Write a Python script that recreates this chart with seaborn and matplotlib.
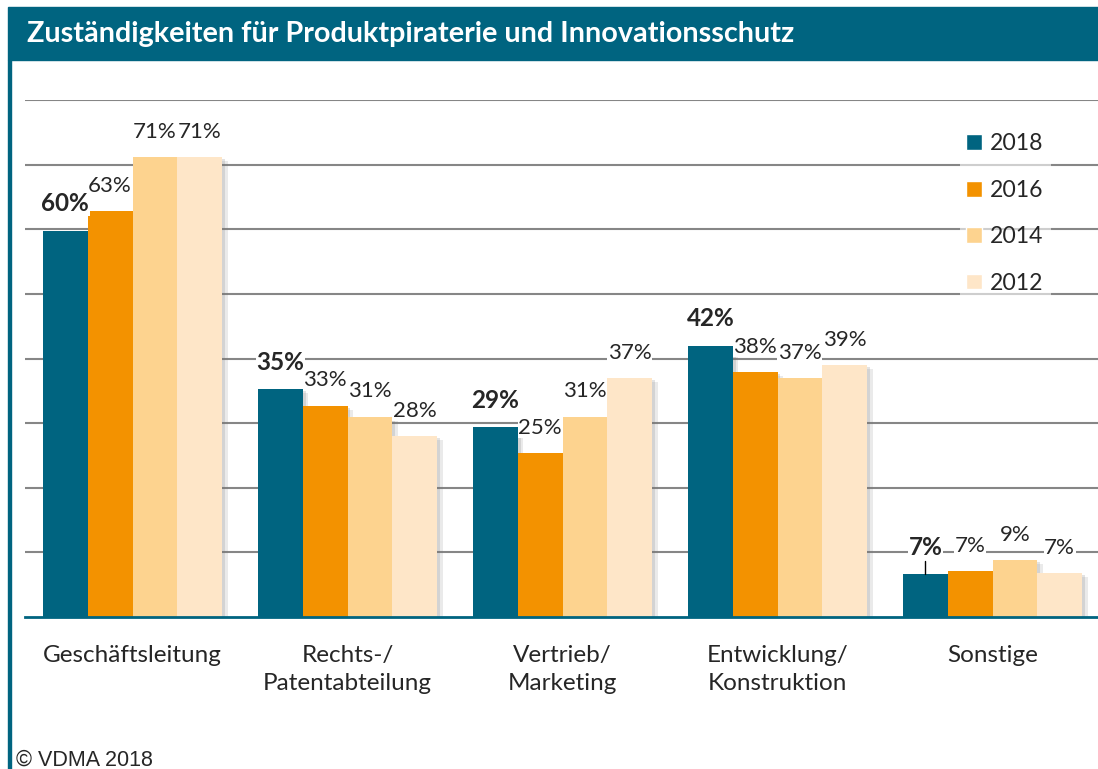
import matplotlib
matplotlib.use("Agg")

import matplotlib.pyplot as plt
import matplotlib.patheffects as pe
import pandas as pd
import seaborn as sns
from matplotlib.patches import Rectangle

# ======================================================
# Data
# ======================================================

categories = [
    "Geschäftsleitung",
    "Rechts-/\nPatentabteilung",
    "Vertrieb/\nMarketing",
    "Entwicklung/\nKonstruktion",
    "Sonstige",
]

years = ["2018", "2016", "2014", "2012"]

values_2018 = [59.8, 35.3, 29.4, 42.0, 6.6]
values_2016 = [62.8, 32.7, 25.4, 37.9, 7.1]
values_2014 = [71.2, 31.0, 31.0, 37.0, 8.8]
values_2012 = [71.2, 28.0, 37.0, 39.0, 6.8]

colors = ["#006480", "#F39200", "#FDD38F", "#FEE6C8"]

TEAL = "#006480"
TITLE = "Zuständigkeiten für Produktpiraterie und Innovationsschutz"

df = pd.DataFrame({
    "Bereich": categories * 4,
    "Jahr": [y for y in years for _ in categories],
    "Anteil": values_2018 + values_2016 + values_2014 + values_2012,
})

# ======================================================
# Figure
# ======================================================

sns.set_style("white")
plt.rcParams["font.family"] = ["Lato", "DejaVu Sans"]

fig = plt.figure(figsize=(10.98, 7.69), dpi=100)

# title banner and left border
fig.patches.append(Rectangle((8 / 1098, 1 - 60 / 769), 1.0, 53 / 769,
                             transform=fig.transFigure, color=TEAL, zorder=0))
fig.patches.append(Rectangle((8 / 1098, 0), 3 / 1098, 1 - 60 / 769,
                             transform=fig.transFigure, color=TEAL, zorder=0))
fig.text(27 / 1098, 1 - 34 / 769, TITLE, color="white", fontsize=20.7,
         fontweight="bold", va="center", ha="left")

ax = fig.add_axes([25 / 1098, 152 / 769, 1075 / 1098, 517 / 769])

sns.barplot(
    data=df,
    x="Bereich",
    y="Anteil",
    hue="Jahr",
    hue_order=years,
    palette=colors,
    width=0.833,
    gap=0,
    saturation=1,
    errorbar=None,
    ax=ax,
)

shadow = [
    pe.SimplePatchShadow(offset=(4, -3), shadow_rgbFace="#777777", alpha=0.15),
    pe.SimplePatchShadow(offset=(2, -1.5), shadow_rgbFace="#777777", alpha=0.2),
    pe.Normal(),
]

label_box = dict(facecolor="white", edgecolor="none", pad=0.5)

for idx, container in enumerate(ax.containers):
    for rect in container:
        rect.set_path_effects(shadow)
        rect.set_linewidth(0)
    labels = [f"{round(r.get_height())}%" for r in container]
    if idx == 0:
        texts = ax.bar_label(container, labels=labels, padding=11,
                             fontsize=17.5, fontweight="bold")
    else:
        texts = ax.bar_label(container, labels=labels, padding=11,
                             fontsize=16)
    for t in texts:
        t.set_bbox(label_box)

# leader line for the small "Sonstige" 2018 value
rect = ax.containers[0][4]
cx = rect.get_x() + rect.get_width() / 2
ax.plot([cx, cx], [rect.get_height(), rect.get_height() + 2],
        color="black", lw=1)

ax.set_ylim(0, 80)
ax.set_xlim(-0.5, 4.5)
ax.set_yticks(range(10, 81, 10))
ax.yaxis.grid(True, color="#868686", linewidth=1.5)
ax.set_axisbelow(True)
ax.set_yticklabels([])
ax.tick_params(axis="y", length=0)

ax.set_xlabel("")
ax.set_ylabel("")
ax.set_xticks(range(len(categories)))
ax.set_xticklabels(categories, fontsize=17.5, linespacing=1.4)
ax.tick_params(axis="x", which="major", length=0, pad=20)
ax.set_xticks([i - 0.5 for i in range(len(categories) + 1)], minor=True)
ax.tick_params(axis="x", which="minor", length=7, width=1.5, color=TEAL,
               direction="out")

for side in ["top", "right", "left"]:
    ax.spines[side].set_visible(False)
ax.spines["bottom"].set_color(TEAL)
ax.spines["bottom"].set_linewidth(2)

handles, labels = ax.get_legend_handles_labels()
ax.legend(
    handles,
    labels,
    loc="upper left",
    bbox_to_anchor=(948 / 1098, 1 - 115 / 769),
    bbox_transform=fig.transFigure,
    fontsize=16.6,
    frameon=True,
    framealpha=0.6,
    edgecolor="none",
    handlelength=0.68,
    handleheight=0.68,
    handletextpad=0.35,
    labelspacing=1.1,
    borderpad=0.3,
)

fig.text(16 / 1098, 9 / 769, "© VDMA 2018", fontsize=15.5,
         family="Liberation Sans", ha="left", va="center")

plt.savefig("out.png", dpi=100)
plt.close()
